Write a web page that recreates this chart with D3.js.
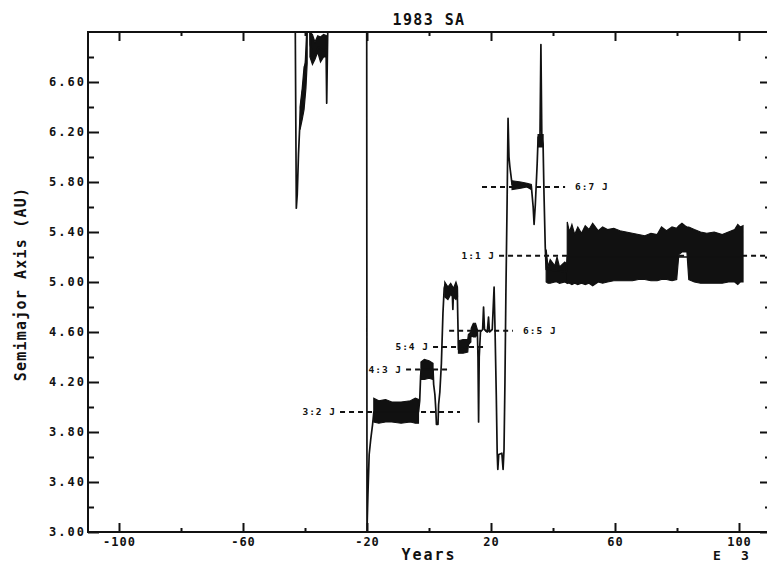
<!DOCTYPE html>
<html>
<head>
<meta charset="utf-8">
<script src="https://cdn.jsdelivr.net/npm/d3@7"></script>
<style>
    body { margin: 0; background: #fff; }
    text { font-family: "DejaVu Sans Mono", monospace; font-weight: bold; fill: #111; }
</style>
</head>
<body>
<script>
// years in units of 1000 (E 3), semimajor axis in AU
var majorYears = [-100, -60, -20, 20, 60, 100];
var minorYears = [-80, -40, 0, 40, 80];
var majorAxis = [3.0, 3.4, 3.8, 4.2, 4.6, 5.0, 5.4, 5.8, 6.2, 6.6];
var minorAxis = [3.2, 3.6, 4.0, 4.4, 4.8, 5.2, 5.6, 6.0, 6.4, 6.8];

// thin trajectory [year, a]
var trace = [
    [-43.2, 7.3], [-42.8, 5.59], [-42.5, 5.70], [-42.1, 6.02], [-41.6, 6.30],
    [-41.0, 6.48], [-40.3, 6.62], [-39.8, 6.78], [-39.4, 7.0], [-39.0, 7.3],
    [-38.6, 7.3], [-38.3, 6.90], [-37.4, 6.80], [-35.6, 6.88], [-34.2, 6.85],
    [-33.2, 6.86], [-33.0, 6.43], [-32.7, 6.95], [-32.4, 7.3],
    [-20.1, 7.3], [-20.0, 3.01], [-19.7, 3.30], [-19.3, 3.62], [-18.8, 3.74],
    [-18.2, 3.86], [-17.8, 3.96], [-3.4, 3.96], [-3.0, 4.05], [-2.7, 4.25],
    [-2.5, 4.30], [1.3, 4.30], [1.5, 4.18], [1.9, 4.10], [2.2, 3.98],
    [2.4, 3.86], [2.9, 3.86], [3.1, 4.02], [3.5, 4.12], [4.0, 4.35],
    [4.5, 4.75], [4.9, 4.95], [5.2, 4.98], [7.5, 4.92], [7.7, 4.78],
    [7.9, 4.92], [9.1, 4.95], [9.3, 4.70], [9.5, 4.46], [12.5, 4.48],
    [13.3, 4.56], [15.6, 4.61], [15.8, 4.40], [16.0, 3.88], [16.2, 4.40],
    [16.6, 4.60], [17.3, 4.62], [17.6, 4.80], [17.9, 4.62], [18.8, 4.60],
    [19.2, 4.72], [19.5, 4.60], [20.4, 4.62], [21.0, 4.96], [21.3, 4.62],
    [21.7, 4.10], [22.0, 3.63], [22.2, 3.50], [22.5, 3.62], [23.5, 3.63],
    [23.9, 3.50], [24.2, 3.66], [24.5, 4.20], [24.8, 4.90], [25.2, 5.65],
    [25.5, 6.31], [25.8, 6.00], [26.1, 5.92], [26.8, 5.78], [33.0, 5.77],
    [33.6, 5.60], [33.9, 5.46], [34.3, 5.62], [34.9, 5.95], [35.2, 6.16],
    [35.8, 6.16], [36.1, 6.90], [36.4, 6.15], [36.8, 6.10], [37.1, 5.70],
    [37.5, 5.28], [37.8, 5.10], [44.3, 5.08], [44.6, 5.20], [100.9, 5.20]
];

// dense oscillation zones [year, low a, high a]
var leftBlock = [[-41.6, 6.22, 6.40], [-40.9, 6.30, 6.55], [-40.3, 6.38, 6.72], [-39.7, 6.55, 6.76], [-39.3, 6.75, 7.0]];
var wBlock = [[-38.4, 6.80, 7.0], [-37.6, 6.74, 6.98], [-36.8, 6.78, 6.92], [-35.9, 6.84, 6.97], [-35.0, 6.76, 6.96], [-34.0, 6.80, 6.98], [-33.1, 6.80, 6.97]];
var band32 = [[-17.8, 3.88, 4.07], [-16.2, 3.87, 4.05], [-14.0, 3.88, 4.06], [-12, 3.88, 4.04], [-9, 3.87, 4.04], [-6, 3.88, 4.05], [-4.4, 3.87, 4.07], [-3.4, 3.87, 4.06]];
var band43 = [[-2.6, 4.22, 4.36], [-1.5, 4.22, 4.38], [0, 4.23, 4.37], [1.3, 4.22, 4.35]];
var block50 = [[5.1, 4.88, 5.0], [6.1, 4.86, 4.96], [7.0, 4.90, 4.99], [7.9, 4.88, 4.95], [8.7, 4.86, 5.0], [9.2, 4.88, 4.96]];
var band54 = [[9.5, 4.43, 4.53], [11.0, 4.43, 4.54], [12.5, 4.44, 4.54], [12.7, 4.50, 4.58], [13.5, 4.52, 4.60]];
var blob65 = [[13.6, 4.57, 4.63], [14.3, 4.56, 4.67], [15.0, 4.56, 4.67], [15.6, 4.58, 4.62]];
var band67 = [[26.8, 5.74, 5.81], [29.6, 5.75, 5.80], [31.6, 5.76, 5.79], [33.0, 5.74, 5.78]];
var plateau62 = [[35.2, 6.08, 6.18], [36.8, 6.08, 6.18]];
var lowBand = [[37.8, 5.0, 5.26], [38.4, 4.99, 5.12], [39.1, 4.99, 5.18], [40.6, 5.0, 5.13], [41.3, 5.0, 5.20], [42.1, 4.99, 5.12], [43.8, 5.0, 5.16], [44.6, 4.99, 5.14]];
var band11 = [
    [44.6, 4.99, 5.48], [45.3, 4.99, 5.40], [46.1, 4.98, 5.46], [47.0, 4.99, 5.38],
    [48.0, 4.98, 5.44], [49.2, 4.99, 5.39], [50.4, 4.98, 5.45], [51.6, 4.99, 5.42],
    [52.8, 4.97, 5.47], [54.6, 5.0, 5.41], [56.0, 4.99, 5.44], [57.6, 5.0, 5.42],
    [59.6, 5.01, 5.43], [61.6, 5.01, 5.41], [63.6, 5.01, 5.40], [65.6, 5.01, 5.39],
    [67.6, 5.02, 5.38], [69.6, 5.02, 5.37], [71.6, 5.01, 5.39], [73.6, 5.01, 5.38],
    [75.0, 5.02, 5.44], [76.6, 5.02, 5.41], [78.4, 5.01, 5.44], [79.9, 5.02, 5.43],
    [80.6, 5.22, 5.45], [81.6, 5.24, 5.47], [82.6, 5.24, 5.45], [83.2, 5.24, 5.44],
    [83.8, 5.02, 5.44], [85.6, 5.0, 5.42], [87.6, 4.99, 5.40], [89.6, 4.99, 5.39],
    [92.0, 4.99, 5.40], [94.6, 4.99, 5.38], [96.6, 5.0, 5.40], [98.6, 5.0, 5.42],
    [99.6, 4.98, 5.46], [100.4, 5.0, 5.44], [101.3, 5.0, 5.45]
];
var bands = [leftBlock, wBlock, band32, band43, block50, band54, blob65, band67, plateau62, lowBand, band11];

// resonance markers
var resNames = ["3:2 J", "4:3 J", "5:4 J", "6:5 J", "1:1 J", "6:7 J"];
var resAxis = [3.96, 4.30, 4.48, 4.61, 5.21, 5.76];
var resStart = [-28.7, -7.4, 1.3, 6.5, 22.6, 17.1];
var resEnd = [10.0, 6.8, 18.7, 27.1, 110, 43.9];
var resSide = ["left", "left", "left", "right", "left", "right"];

var W = 767, H = 565;
var plotLeft = 88, plotRight = 770, plotTop = 32, plotBottom = 532;

var svg = d3.select("body").append("svg")
    .attr("width", W)
    .attr("height", H);

var x = d3.scaleLinear().domain([-110, 110]).range([plotLeft, plotRight]);
var y = d3.scaleLinear().domain([3.0, 7.0]).range([plotBottom, plotTop]);

svg.append("clipPath").attr("id", "plot")
    .append("rect")
    .attr("x", plotLeft).attr("y", plotTop)
    .attr("width", plotRight - plotLeft).attr("height", plotBottom - plotTop);

var plot = svg.append("g").attr("clip-path", "url(#plot)");

// resonance dashed lines
resNames.forEach(function (name, i) {
    plot.append("line")
        .attr("x1", x(resStart[i])).attr("x2", x(resEnd[i]))
        .attr("y1", y(resAxis[i])).attr("y2", y(resAxis[i]))
        .attr("stroke", "#111")
        .attr("stroke-width", 1.8)
        .attr("stroke-dasharray", "5,4");
    var t = svg.append("text")
        .attr("y", y(resAxis[i]))
        .attr("dy", "0.35em")
        .style("font-size", "9.5px")
        .style("letter-spacing", "1px")
        .text(name);
    if (resSide[i] == "left") {
        t.attr("x", x(resStart[i]) - 4).attr("text-anchor", "end");
    } else {
        t.attr("x", x(resEnd[i]) + 10).attr("text-anchor", "start");
    }
});

var area = d3.area()
    .x(function (d) { return x(d[0]); })
    .y0(function (d) { return y(d[1]); })
    .y1(function (d) { return y(d[2]); });

plot.selectAll("path.band")
    .data(bands)
    .enter()
    .append("path")
    .attr("class", "band")
    .attr("d", area)
    .attr("fill", "#111")
    .attr("stroke", "#111")
    .attr("stroke-width", 1.2);

var line = d3.line()
    .x(function (d) { return x(d[0]); })
    .y(function (d) { return y(d[1]); });

plot.append("path")
    .datum(trace)
    .attr("d", line)
    .attr("fill", "none")
    .attr("stroke", "#111")
    .attr("stroke-width", 1.7)
    .attr("stroke-linejoin", "round");

// axes with inward ticks
function styleAxis(g) {
    g.select(".domain").remove();
    g.selectAll(".tick line").attr("stroke", "#111").attr("stroke-width", 2);
    g.selectAll(".tick text")
        .style("font-family", '"DejaVu Sans Mono", monospace')
        .style("font-weight", "bold")
        .style("font-size", "12px")
        .attr("fill", "#111");
}

svg.append("g")
    .attr("transform", "translate(0," + plotBottom + ")")
    .call(d3.axisBottom(x).tickValues(majorYears).tickSize(-9).tickPadding(5)
        .tickFormat(function (d) { return String(d); }))
    .call(styleAxis)
    .selectAll(".tick text").style("letter-spacing", "1px");
svg.append("g")
    .attr("transform", "translate(0," + plotBottom + ")")
    .call(d3.axisBottom(x).tickValues(minorYears).tickSize(-4).tickFormat(""))
    .call(styleAxis);

svg.append("g")
    .attr("transform", "translate(0," + plotTop + ")")
    .call(d3.axisTop(x).tickValues(majorYears).tickSize(-9).tickFormat(""))
    .call(styleAxis);
svg.append("g")
    .attr("transform", "translate(0," + plotTop + ")")
    .call(d3.axisTop(x).tickValues(minorYears).tickSize(-4).tickFormat(""))
    .call(styleAxis);

svg.append("g")
    .attr("transform", "translate(" + plotLeft + ",0)")
    .call(d3.axisLeft(y).tickValues(majorAxis).tickSize(-11).tickPadding(2)
        .tickFormat(d3.format(".2f")))
    .call(styleAxis)
    .selectAll(".tick text").style("letter-spacing", "2px");
svg.append("g")
    .attr("transform", "translate(" + plotLeft + ",0)")
    .call(d3.axisLeft(y).tickValues(minorAxis).tickSize(-6).tickFormat(""))
    .call(styleAxis);

svg.append("g")
    .attr("transform", "translate(" + plotRight + ",0)")
    .call(d3.axisRight(y).tickValues(majorAxis).tickSize(-10).tickFormat(""))
    .call(styleAxis);
svg.append("g")
    .attr("transform", "translate(" + plotRight + ",0)")
    .call(d3.axisRight(y).tickValues(minorAxis).tickSize(-5).tickFormat(""))
    .call(styleAxis);

// frame
svg.append("rect")
    .attr("x", plotLeft).attr("y", plotTop)
    .attr("width", plotRight - plotLeft).attr("height", plotBottom - plotTop)
    .attr("fill", "none")
    .attr("stroke", "#111")
    .attr("stroke-width", 2);

svg.append("text")
    .attr("x", (plotLeft + plotRight) / 2)
    .attr("y", 25)
    .attr("text-anchor", "middle")
    .style("font-size", "15px")
    .style("letter-spacing", "1.4px")
    .text("1983 SA");

svg.append("text")
    .attr("x", (plotLeft + plotRight) / 2)
    .attr("y", 560)
    .attr("text-anchor", "middle")
    .style("font-size", "15px")
    .style("letter-spacing", "2px")
    .text("Years");

svg.append("text").attr("x", 717).attr("y", 560).attr("text-anchor", "middle")
    .style("font-size", "13px").text("E");
svg.append("text").attr("x", 745).attr("y", 560).attr("text-anchor", "middle")
    .style("font-size", "13px").text("3");

svg.append("text")
    .attr("transform", "translate(26,284) rotate(-90)")
    .attr("text-anchor", "middle")
    .style("font-size", "15px")
    .style("letter-spacing", "1.2px")
    .text("Semimajor Axis (AU)");
</script>
</body>
</html>
